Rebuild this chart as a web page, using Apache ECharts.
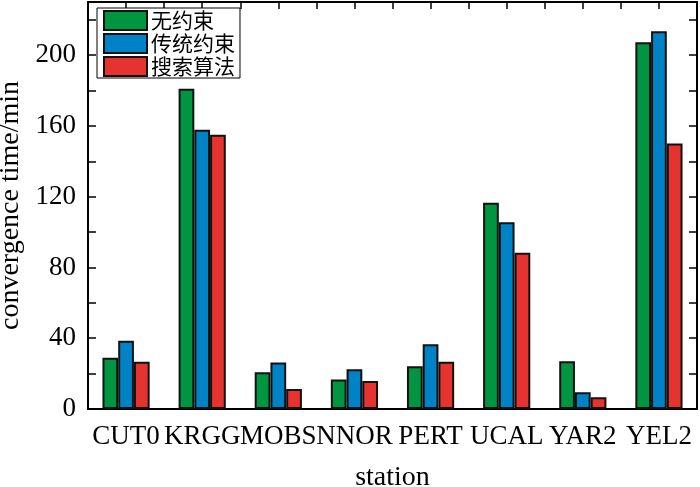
<!DOCTYPE html>
<html><head><meta charset="utf-8">
<script src="https://cdn.jsdelivr.net/npm/echarts@6/dist/echarts.min.js"></script>
<style>html,body{margin:0;padding:0;background:#fff}#c{width:700px;height:487px}</style>
</head><body><div id="c"></div>
<script>
const stations = ['CUT0','KRGG','MOBS','NNOR','PERT','UCAL','YAR2','YEL2'];
const seriesNames = ['无约束','传统约束','搜索算法'];
const noConstraint = [29, 181, 20.7, 16.7, 24.2, 116.5, 27, 207.3];
const traditional = [38.5, 157.8, 26.3, 22.5, 36.6, 105.5, 9.4, 213.5];
const searchAlgo = [26.7, 155, 11.3, 15.8, 26.7, 88.3, 6.6, 150];
const yTicks = [0, 40, 80, 120, 160, 200];
const colors = ['#009641', '#0083c6', '#e5332f'];

const serif = 'Liberation Serif, Times New Roman, serif';
const chart = echarts.init(document.getElementById('c'));
const valuesList = [noConstraint, traditional, searchAlgo];
chart.setOption({
  animation: false,
  grid: { left: 88, right: 3, top: 2, bottom: 78, containLabel: false, outerBoundsMode: 'none' },
  legend: {
    left: 97, top: 8, orient: 'vertical',
    data: seriesNames,
    backgroundColor: '#fff', borderColor: '#000', borderWidth: 1,
    padding: [2, 5, 1, 6],
    itemWidth: 43, itemHeight: 19, itemGap: 2,
    textStyle: { fontFamily: 'Noto Sans CJK SC', fontSize: 21, color: '#000', lineHeight: 20, padding: [0,0,0,-1] },
    icon: 'rect'
  },
  xAxis: [{
    type: 'category', data: stations,
    name: 'station', nameLocation: 'middle', nameGap: 55,
    nameTextStyle: { fontFamily: serif, fontSize: 28, color: '#000' },
    axisLine: { lineStyle: { color: '#000', width: 2 } },
    axisTick: { inside: true, length: 6, lineStyle: { color: '#000', width: 1.5 } },
    axisLabel: { fontFamily: serif, fontSize: 27, color: '#000', margin: 14, interval: 0 },
    splitLine: { show: false }
  }, {
    type: 'value', position: 'top', min: 0, max: 16, interval: 1,
    axisLine: { show: true, onZero: false, lineStyle: { color: '#000', width: 2 } },
    axisTick: { inside: true, length: 7, lineStyle: { color: '#000', width: 1.5 } },
    axisLabel: { show: false }, splitLine: { show: false }
  }],
  yAxis: [{
    type: 'value', min: 0, max: 230, interval: 20,
    name: 'convergence time/min', nameLocation: 'middle', nameGap: 57,
    nameTextStyle: { fontFamily: serif, fontSize: 28, color: '#000' },
    axisLine: { show: true, lineStyle: { color: '#000', width: 2 } },
    axisTick: { inside: true, length: 8, lineStyle: { color: '#000', width: 1.5 } },
    axisLabel: { fontFamily: serif, fontSize: 27, color: '#000', margin: 12,
      formatter: v => yTicks.includes(v) ? String(v) : '' },
    splitLine: { show: false }
  }, {
    type: 'value', position: 'right', min: 0, max: 230, interval: 20,
    axisLine: { show: true, lineStyle: { color: '#000', width: 2 } },
    axisTick: { inside: true, length: 8, lineStyle: { color: '#000', width: 1.5 } },
    axisLabel: { show: false }, splitLine: { show: false }
  }],
  series: seriesNames.map((n, i) => ({
    name: n, type: 'bar', data: valuesList[i], xAxisIndex: 0, yAxisIndex: 0,
    barGap: '0%', barCategoryGap: '38%',
    itemStyle: { color: colors[i], borderColor: '#111', borderWidth: 2 }
  }))
});
</script></body></html>
